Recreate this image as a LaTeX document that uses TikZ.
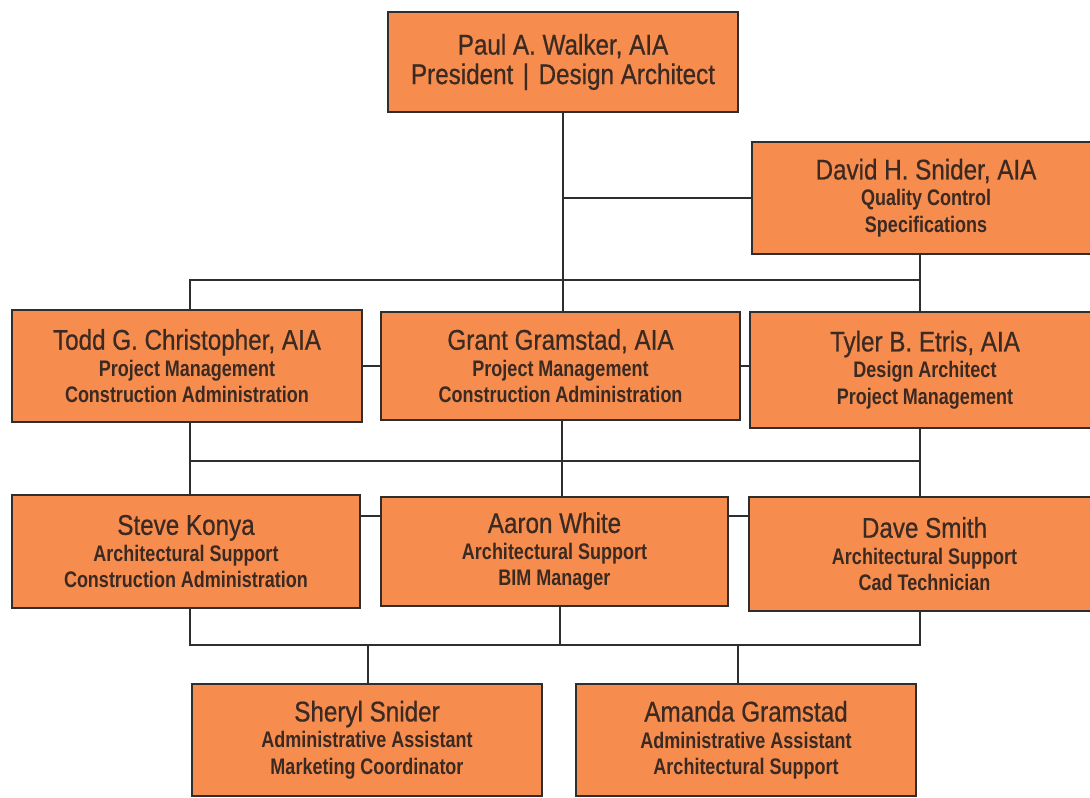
\documentclass[tikz,border=0pt]{standalone}
\usepackage{fontspec}
\setmainfont{Liberation Sans}
\newfontfamily\namefam{Liberation Sans}[FakeStretch=0.85,FakeBold=0.6]
\newfontfamily\subfam{Liberation Sans}[FakeStretch=0.8]
\newcommand\nmf{\namefam\mdseries\fontsize{28.5}{30}\selectfont}
\newcommand\sbf{\subfam\bfseries\fontsize{22.5}{26.5}\selectfont}
\definecolor{boxc}{HTML}{F68C4E}
\definecolor{linec}{HTML}{2E2E2E}
\definecolor{txtc}{HTML}{3B2A22}
\begin{document}
\begin{tikzpicture}[x=1pt,y=-1pt,
  box/.style={draw=linec, line width=2pt, fill=boxc, text=txtc, align=center,
    inner sep=0pt, font=\sbf},
  conn/.style={draw=linec, line width=2.2pt}]
\useasboundingbox (0,0) rectangle (1090,798);
\clip (0,0) rectangle (1090,798);
\fill[white] (0,0) rectangle (1090,798);
% boxes
\node[box, minimum width=350pt, minimum height=100pt] (paul) at (563,62)
  {{\nmf Paul A. Walker, AIA}\\[3pt]{\nmf President\,\,|\,\,Design Architect}};
\node[box, minimum width=348pt, minimum height=112pt] (david) at (926,198)
  {{\nmf David H. Snider, AIA}\\Quality Control\\Specifications};
\node[box, minimum width=350pt, minimum height=112pt] (todd) at (187,366)
  {{\nmf Todd G. Christopher, AIA}\\Project Management\\Construction Administration};
\node[box, minimum width=359pt, minimum height=108pt] (grant) at (560.5,366)
  {{\nmf Grant Gramstad, AIA}\\Project Management\\Construction Administration};
\node[box, minimum width=350pt, minimum height=116pt] (tyler) at (925,370)
  {{\nmf Tyler B. Etris, AIA}\\Design Architect\\Project Management};
\node[box, minimum width=348pt, minimum height=113pt] (steve) at (186,551.5)
  {{\nmf Steve Konya}\\Architectural Support\\Construction Administration};
\node[box, minimum width=347pt, minimum height=109pt] (aaron) at (554.5,551.5)
  {{\nmf Aaron White}\\Architectural Support\\BIM Manager};
\node[box, minimum width=351pt, minimum height=114pt] (dave) at (924.5,554)
  {{\nmf Dave Smith}\\Architectural Support\\Cad Technician};
\node[box, minimum width=350pt, minimum height=112pt] (sheryl) at (367,740)
  {{\nmf Sheryl Snider}\\Administrative Assistant\\Marketing Coordinator};
\node[box, minimum width=340pt, minimum height=112pt] (amanda) at (746,740)
  {{\nmf Amanda Gramstad}\\Administrative Assistant\\Architectural Support};
% junction coordinates
\coordinate (r1L) at (190,280);
\coordinate (r1R) at (920,280);
\coordinate (r2L) at (190,461);
\coordinate (r2M) at (562,461);
\coordinate (r2R) at (920,461);
\coordinate (r3L) at (190,645);
\coordinate (r3M) at (560,645);
\coordinate (r3R) at (920,645);
\coordinate (r3S) at (368,645);
\coordinate (r3A) at (738,645);
\coordinate (s3) at (0,516);
% connectors
\draw[conn] (paul.south) -- (paul.south |- grant.north);
\draw[conn] (paul.south |- david.west) -- (david.west);
\draw[conn] (r1L |- todd.north) -- (r1L) -- (r1R) -- (r1R |- david.south);
\draw[conn] (r1R) -- (r1R |- tyler.north);
\draw[conn] (todd.east) -- (grant.west);
\draw[conn] (grant.east) -- (grant.east -| tyler.west);
\draw[conn] (r2L |- todd.south) -- (r2L |- steve.north);
\draw[conn] (r2M |- grant.south) -- (r2M |- aaron.north);
\draw[conn] (r2R |- tyler.south) -- (r2R |- dave.north);
\draw[conn] (r2L) -- (r2R);
\draw[conn] (steve.east |- s3) -- (aaron.west |- s3);
\draw[conn] (aaron.east |- s3) -- (dave.west |- s3);
\draw[conn] (r3L |- steve.south) -- (r3L) -- (r3R) -- (r3R |- dave.south);
\draw[conn] (r3M |- aaron.south) -- (r3M);
\draw[conn] (r3S) -- (r3S |- sheryl.north);
\draw[conn] (r3A) -- (r3A |- amanda.north);
\end{tikzpicture}
\end{document}
